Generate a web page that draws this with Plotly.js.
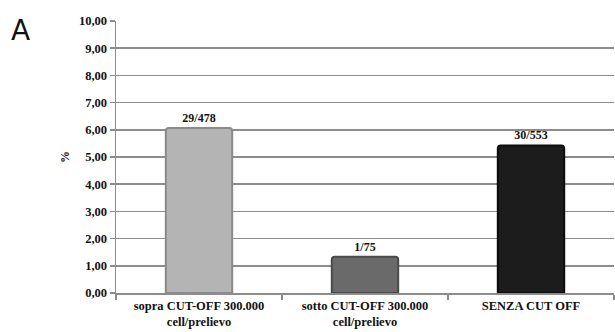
<!DOCTYPE html>
<html>
<head>
<meta charset="utf-8">
<script src="https://cdn.plot.ly/plotly-3.0.1.min.js"></script>
<style>
  html, body { margin: 0; padding: 0; background: #fff; }
  #chart { width: 615px; height: 332px; }
</style>
</head>
<body>
<div id="chart"></div>
<script>
// Positive cases over total samples, per group
const categories = [
  'sopra CUT-OFF 300.000<br>cell/prelievo',
  'sotto CUT-OFF 300.000<br>cell/prelievo',
  'SENZA CUT OFF'
];
const positives = [29, 1, 30];
const totals = [478, 75, 553];
const barColors = ['#b4b4b4', '#6a6a6a', '#1c1c1c'];
const edgeColors = ['#8a8a8a', '#4a4a4a', '#0c0c0c'];
const yTickVals = [0, 1, 2, 3, 4, 5, 6, 7, 8, 9, 10];

const percents = positives.map((p, i) => p / totals[i] * 100);
const labels = positives.map((p, i) => p + '/' + totals[i]);

const serif = '"Liberation Serif", "Times New Roman", serif';

const trace = {
  type: 'bar',
  x: categories,
  y: percents,
  width: 0.4,
  text: labels,
  textposition: 'outside',
  cliponaxis: false,
  textfont: { family: serif, size: 12, color: '#111', weight: 700 },
  marker: {
    color: barColors,
    line: { color: edgeColors, width: 2 },
    cornerradius: 3
  },
  hoverinfo: 'none'
};

const layout = {
  width: 615,
  height: 332,
  margin: { l: 116, r: 1, t: 21, b: 39 },
  paper_bgcolor: '#fff',
  plot_bgcolor: '#fff',
  separators: ',.',
  showlegend: false,
  font: { family: serif, weight: 700 },
  xaxis: {
    type: 'category',
    showline: true,
    linecolor: '#8c8c8c',
    linewidth: 1.5,
    ticks: 'outside',
    tickson: 'boundaries',
    ticklen: 5,
    tickcolor: '#8c8c8c',
    tickwidth: 1.5,
    showgrid: false,
    tickfont: { family: serif, size: 12.5, color: '#111', weight: 700 },
    fixedrange: true
  },
  yaxis: {
    range: [0, 10],
    tickvals: yTickVals,
    tickformat: '.2f',
    showline: true,
    linecolor: '#8c8c8c',
    linewidth: 1.5,
    ticks: 'outside',
    ticklen: 5,
    tickcolor: '#8c8c8c',
    tickwidth: 1.5,
    showgrid: true,
    gridcolor: '#8c8c8c',
    gridwidth: 1.5,
    zeroline: false,
    tickfont: { family: serif, size: 12.5, color: '#111', weight: 700 },
    title: { text: '%', font: { family: serif, size: 12, color: '#111', weight: 700 }, standoff: 6 },
    fixedrange: true
  },
  annotations: [
    {
      text: 'A', xref: 'paper', yref: 'paper', x: -0.191, y: 0.965,
      xanchor: 'center', yanchor: 'middle', showarrow: false,
      font: { family: '"DejaVu Sans", sans-serif', size: 28, color: '#111', weight: 400 }
    }
  ]
};

Plotly.newPlot('chart', [trace], layout, { displayModeBar: false, staticPlot: true });
</script>
</body>
</html>
